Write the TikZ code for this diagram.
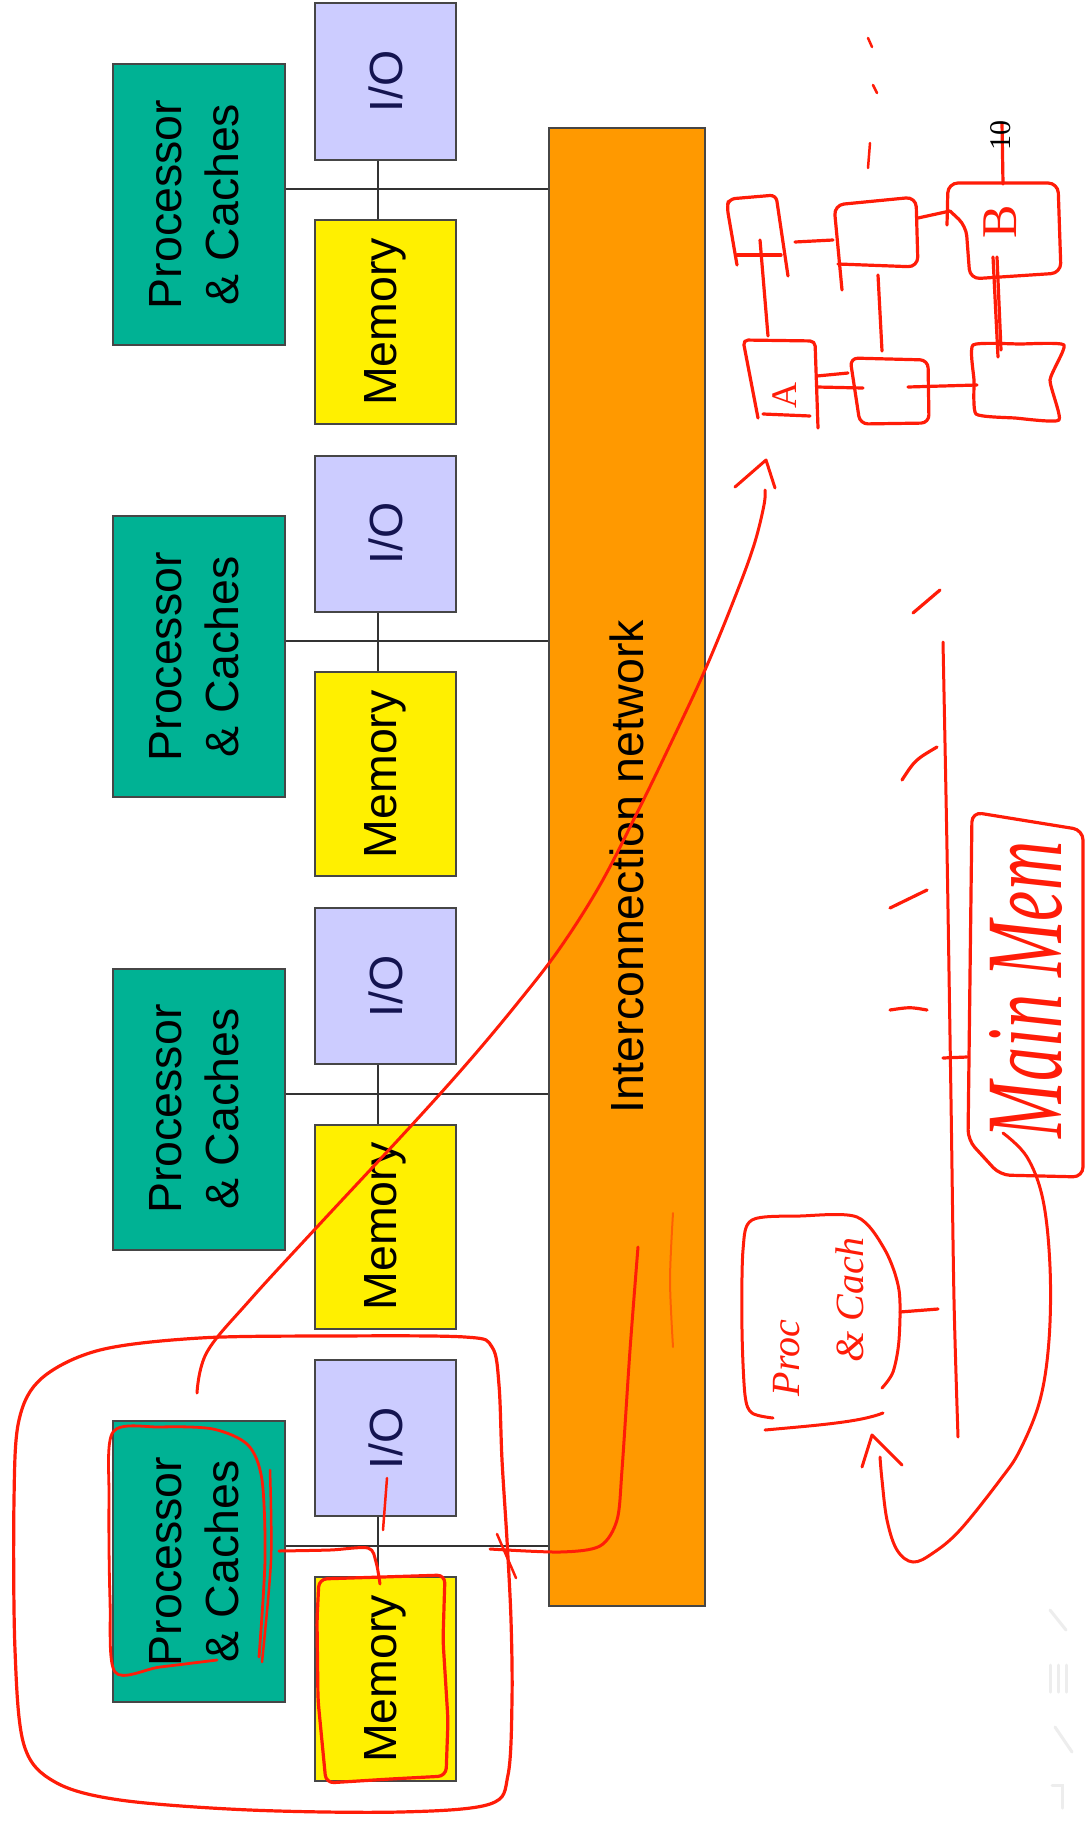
\documentclass[tikz,border=0pt]{standalone}
\usepackage{fontspec}
\setmainfont{Liberation Sans}
\newfontfamily\handfont{Liberation Serif}
\definecolor{teal1}{RGB}{0,178,148}
\definecolor{lav}{RGB}{204,204,255}
\definecolor{yel}{RGB}{255,240,0}
\definecolor{org}{RGB}{255,153,0}
\definecolor{bord}{RGB}{70,70,70}
\definecolor{inkred}{RGB}{255,28,8}
\definecolor{iotext}{RGB}{20,20,80}
\begin{document}
\begin{tikzpicture}[x=1pt,y=-1pt,
  slide/.style={draw=bord, line width=2pt, inner sep=0pt, font=\fontsize{46.5}{57}\selectfont},
  procbox/.style={slide, fill=teal1, minimum width=172pt, minimum height=281pt},
  iobox/.style={slide, fill=lav, minimum width=141pt, minimum height=156pt, text=iotext},
  membox/.style={slide, fill=yel, minimum width=141pt, minimum height=204pt},
  netbox/.style={slide, fill=org, minimum width=156pt, minimum height=1478pt},
  wire/.style={draw=black!80, line width=1.8pt},
  ink/.style={draw=inkred, line width=3.2pt, line cap=round, line join=round},
  inktext/.style={text=inkred, inner sep=0pt, rotate=90},
  faint/.style={draw=black!7, line width=3pt, line cap=round}
]
\fill[white] (0,0) rectangle (1090,1825);
\useasboundingbox (0,0) rectangle (1090,1825);

% ---------- slide ----------
\node[netbox] (net) at (627,867) {\rotatebox{90}{Interconnection network}};
\foreach \i in {0,1,2,3}{
  \pgfmathsetmacro{\dy}{452.3*\i}
  \node[procbox] (p\i) at (198.5,{204.5+\dy}) {\rotatebox{90}{\begin{tabular}{@{}c@{}}Processor\\\& Caches\end{tabular}}};
  \node[iobox] (io\i) at (385.5,{81.5+\dy}) {\rotatebox{90}{I/O}};
  \node[membox] (m\i) at (385.5,{322+\dy}) {\rotatebox{90}{Memory}};
  \coordinate (j\i) at (378,{189+\dy});
  \draw[wire] (p\i.east |- j\i) -- (net.west |- j\i);
  \draw[wire] (io\i.south -| j\i) -- (m\i.north -| j\i);
}

% ---------- red annotations: bottom group ----------
\draw[ink] plot[smooth cycle, tension=0.55] coordinates {(200,1338) (330,1336) (465,1337) (492,1347) (499,1385) (502,1460) (507,1540) (511,1620) (512,1700) (508,1775) (490,1804) (400,1812) (250,1810) (120,1800) (55,1782) (24,1745) (15,1650) (14,1500) (19,1420) (42,1378) (100,1350)};
\draw[ink, line width=2.8pt] plot[smooth, tension=0.5] coordinates {(217,1660) (160,1667) (115,1672) (110,1600) (109,1500) (113,1432) (160,1427) (213,1429) (248,1445) (262,1480) (265,1560) (259,1657)};
\draw[ink, line width=2.5pt] plot[smooth] coordinates {(270,1470) (271,1560) (262,1662)};
\draw[ink, rounded corners=8pt] (319,1579) -- (445,1575) -- (443,1640) -- (448,1720) -- (446,1776) -- (390,1779) -- (326,1783) -- (318,1700) -- (317,1620) -- cycle;
\draw[ink, line width=3pt] plot[smooth, tension=0.5] coordinates {(279,1551) (330,1550) (368,1548) (376,1562) (380,1584)};
\draw[ink, line width=2.5pt] (387,1478) -- (383,1530);
\draw[ink, line width=3pt] plot[smooth, tension=0.5] coordinates {(490,1549) (560,1552) (600,1546) (617,1520) (622,1470) (630,1350) (638,1247)};
\draw[ink, line width=2pt, opacity=.45] plot[smooth] coordinates {(673,1213) (670,1280) (673,1347)};
\draw[ink, line width=2.5pt] (497,1534) -- (516,1578);

% big curved arrow to network sketch
\draw[ink, line width=3pt] plot[smooth, tension=0.6] coordinates {(197,1393) (207,1352) (250,1300) (317,1227) (410,1127) (470,1060) (520,1000) (560,948) (600,885) (636,815) (670,745) (705,670) (735,597) (754,545) (764,505) (765,490)};
\draw[ink, line width=3pt] (735,487) -- (766,460) -- (775,488);

% ---------- network sketch (top right) ----------
\draw[ink, rounded corners=6pt] (737,265) -- (727,207) -- (729,199) -- (776,195) -- (788,276);
\draw[ink] (737,255) -- (781,255);
\draw[ink] (760,240) -- (768,336);
\draw[ink] (795,242) -- (833,240);
\draw[ink, rounded corners=10pt] (842,290) -- (834,205) -- (916,197) -- (918,267) -- (838,264);
\draw[ink] (878,275) -- (882,351);
\draw[ink] (918,218) -- (950,211);
\draw[ink, rounded corners=10pt] (947,225) -- (948,183) -- (1058,183) -- (1061,273) -- (970,279) -- (966,226) -- (950,211);
\draw[ink] (1002,123) -- (1003,184);
\draw[ink] (993,257) -- (998,357);
\draw[ink] (997,257) -- (1001,350);
\draw[ink, rounded corners=5pt] (758,418) -- (743,340) -- (815,341) -- (818,428);
\draw[ink] (763,414) -- (810,416);
\draw[ink] (817,376) -- (848,373);
\draw[ink] (817,387) -- (863,388);
\draw[ink, rounded corners=8pt] (850,358) -- (928,360) -- (929,423) -- (860,424) -- cycle;
\draw[ink] (908,387) -- (977,385);
\draw[ink] plot[smooth cycle, tension=0.3] coordinates {(973,345) (1020,344) (1064,345) (1050,380) (1059,420) (1015,418) (976,414) (974,380)};
\node[inktext, font=\handfont\fontsize{50}{50}\selectfont] (lb) at (1000,222) {B};
\node[inktext, font=\handfont\fontsize{36}{36}\selectfont] (la) at (785,395) {A};
\node[inner sep=0pt, rotate=90, font=\handfont\fontsize{30}{30}\selectfont] (l10) at (1001,135) {10};
\draw[ink, line width=2.5pt] (868,38) -- (872,47);
\draw[ink, line width=2.5pt] (873,85) -- (877,93);
\draw[ink, line width=2.5pt] (870,143) -- (868,168);

% ---------- bus sketch with main memory ----------
\draw[ink, line width=3pt] plot[smooth] coordinates {(943,642) (947,850) (951,1100) (954,1300) (958,1437)};
\draw[ink] (913,613) -- (940,590);
\draw[ink] (902,780) .. controls (915,760) .. (937,747);
\draw[ink] (890,908) -- (927,890);
\draw[ink] (890,1010) .. controls (910,1007) .. (927,1010);
\draw[ink] (943,1058) -- (967,1057);
\draw[ink, rounded corners=10pt] (972,812) -- (1083,830) -- (1083,1177) -- (1000,1175) -- (968,1140) -- cycle;
\node[inktext, font=\handfont\itshape\fontsize{68}{68}\selectfont] (mm) at (1026,990) {\scalebox{1}[1.6]{Main Mem}};

% arrow from main memory back to the processor sketch
\draw[ink, line width=3pt] plot[smooth, tension=0.6] coordinates {(1003,1133) (1027,1157) (1043,1200) (1050,1267) (1049,1340) (1040,1400) (1020,1450) (1000,1480) (960,1530) (933,1553) (913,1562) (897,1550) (887,1520) (882,1480) (880,1457)};
\draw[ink, line width=3pt] (862,1467) -- (872,1435) -- (902,1465);

% processor sketch
\draw[ink, line width=3pt] plot[smooth, tension=0.5] coordinates {(773,1418) (752,1413) (745,1395) (742,1330) (743,1250) (752,1220) (800,1216) (857,1217) (885,1250) (899,1290) (899,1340) (893,1372) (882,1388)};
\draw[ink, line width=3pt] (765,1430) .. controls (820,1425) and (860,1422) .. (883,1413);
\draw[ink] (900,1312) -- (938,1309);
\node[inktext, font=\handfont\itshape\fontsize{40}{40}\selectfont] (pr) at (787,1358) {Proc};
\node[inktext, font=\handfont\itshape\fontsize{40}{40}\selectfont] (ca) at (850,1300) {\& Cach};

% faint player icons
\draw[faint] (1050,1610) -- (1066,1630);
\draw[faint] (1050,1665) -- (1050,1692) (1058,1665) -- (1058,1692) (1066,1665) -- (1066,1692);
\draw[faint] (1055,1727) -- (1072,1752);
\draw[faint] (1052,1785) -- (1062,1785) -- (1062,1808);
\end{tikzpicture}
\end{document}
